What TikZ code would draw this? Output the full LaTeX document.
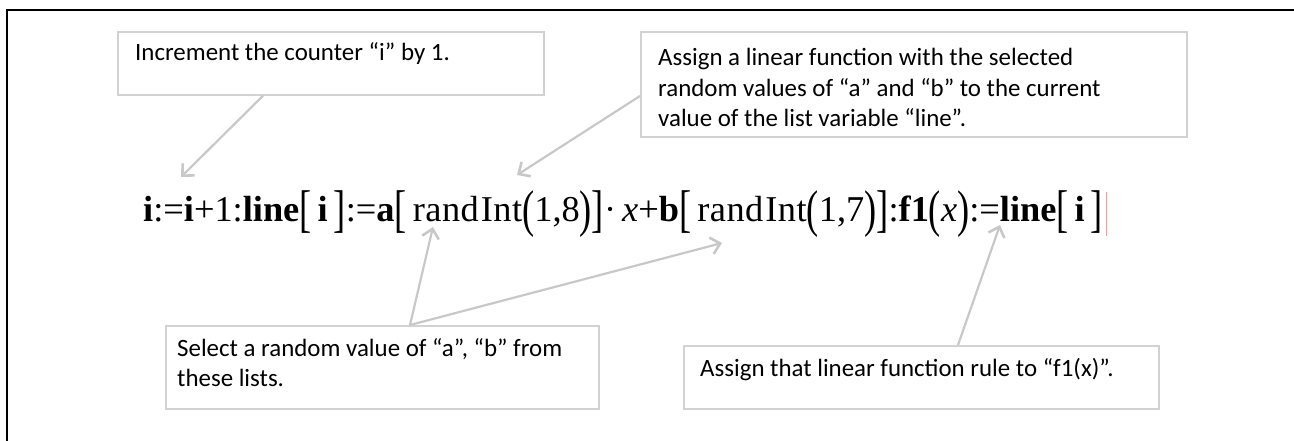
\documentclass[tikz,border=0pt]{standalone}
\usepackage{fontspec}
\usepackage{graphicx}
\setmainfont{Liberation Serif}
\newfontfamily\notefont{Carlito}
\usetikzlibrary{arrows.meta,calc}
\definecolor{boxgray}{HTML}{D2D2D2}
\definecolor{arrgray}{HTML}{C8C8C8}
\definecolor{cursorred}{HTML}{F0A0A0}
% stretched delimiters for the calculator-style formula
\newcommand\tall[1]{\raisebox{-0.28ex}{\scalebox{1}[1.42]{#1}}}
\newcommand\rnd{r\kern0.5pt a\kern0.5pt n\kern0.5pt d\kern2pt I\kern0.5pt n\kern0.5pt t}
\tikzset{
  notebox/.style={draw=boxgray, line width=2, fill=white, inner sep=0, anchor=north west},
  notetext/.style={font=\notefont\fontsize{25}{31}\selectfont, inner sep=0, align=left, anchor=base west},
  pointer/.style={draw=arrgray, line width=2.2, -{Straight Barb[length=9, width=17, line width=2.6]}},
}
\begin{document}
\begin{tikzpicture}[x=1bp, y=-1bp]
\useasboundingbox (0,0) rectangle (1294,441);
% frame
\draw[line width=3] (7,441) -- (7,10) -- (1294,10);

% formula
\node[inner sep=0, anchor=base west, font=\fontsize{36.5}{40}\selectfont] (formula) at (143,222)
 {\textbf{i}:=\textbf{i}+1:\textbf{line}\tall{[}\,\textbf{i}\,\tall{]}:=\textbf{a}\tall{[}\,\rnd\tall{(}1,8\tall{)}\tall{]}·\,\textit{x}+\textbf{b}\tall{[}\,\rnd\tall{(}1,7\tall{)}\tall{]}:\textbf{f1}\tall{(}\textit{x}\tall{)}:=\textbf{line}\tall{[}\,\textbf{i}\,\tall{]}};
\draw[cursorred, line width=0.8] ($(formula.east)+(3,-22)$) -- ($(formula.east)+(3,22)$);

% note boxes (multi-line texts are placed by the baseline of their last line)
\node[notebox, minimum width=428, minimum height=63] (b1) at (117,31) {};
\node[notetext] (t1) at ($(b1.north west)+(18,30)$) {Increment the counter “i” by 1.};

\node[notebox, minimum width=548, minimum height=105] (b2) at (640,31) {};
\node[notetext] (t2) at ($(b2.north west)+(18,96)$) {Assign a linear function with the selected\\random values of “a” and “b” to the current\\value of the list variable “line”.};

\node[notebox, minimum width=435, minimum height=83] (b3) at (165,325) {};
\node[notetext] (t3) at ($(b3.north west)+(12,62)$) {Select a random value of “a”, “b” from\\these lists.};

\node[notebox, minimum width=477, minimum height=63] (b4) at (683,345) {};
\node[notetext] (t4) at ($(b4.north west)+(17,32)$) {Assign that linear function rule to “f1(x)”.};

% arrow targets on the formula
\coordinate (p1) at (181,177);
\coordinate (p2) at (517,175);
\coordinate (p3) at (433,227);
\coordinate (p4) at (722,243);
\coordinate (p5) at (1000,225);

% pointers
\draw[pointer] ($(b1.south west)+(146,0)$) -- (p1);
\draw[pointer] ($(b2.north west)+(0,65)$) -- (p2);
\draw[pointer] ($(b3.north west)+(245,0)$) -- (p3);
\draw[pointer] ($(b3.north west)+(245,0)$) -- (p4);
\draw[pointer] ($(b4.north west)+(275,0)$) -- (p5);
\end{tikzpicture}
\end{document}
